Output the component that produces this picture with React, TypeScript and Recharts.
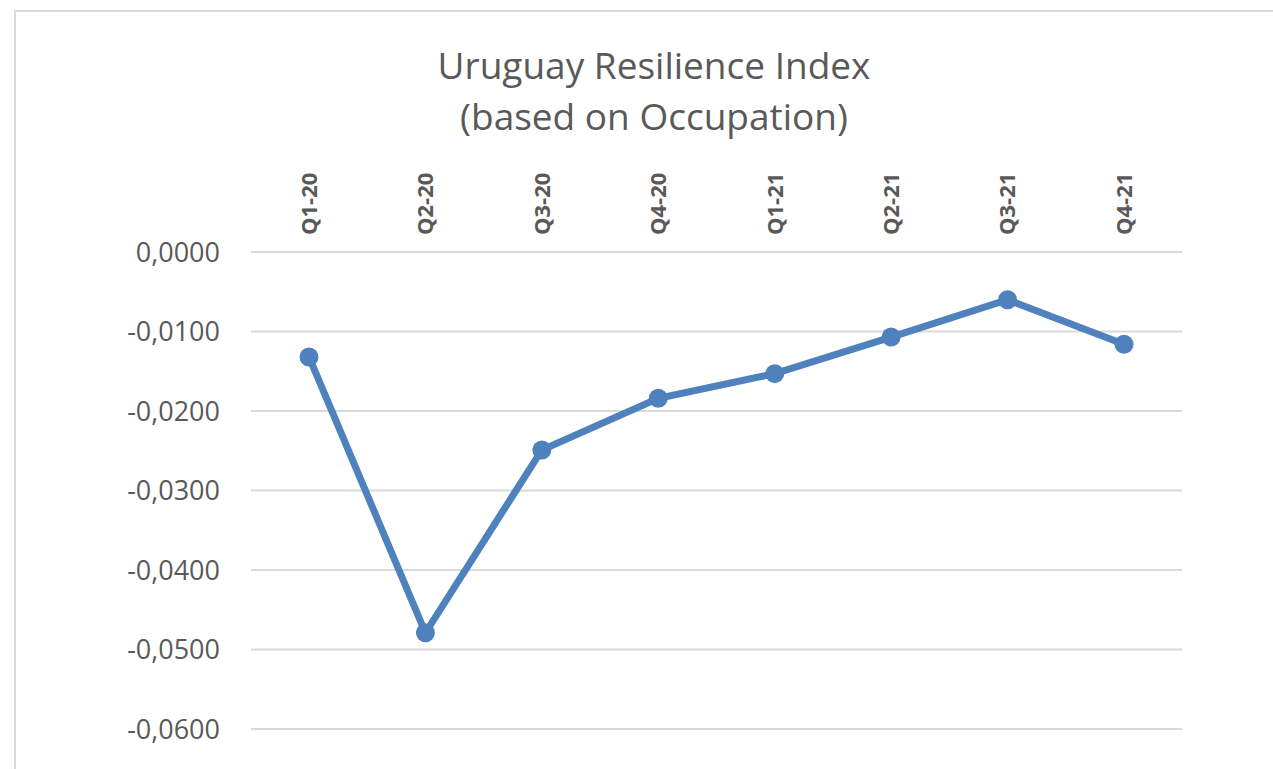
import { LineChart, Line, XAxis, YAxis, CartesianGrid } from "recharts";

const quarters = ["Q1-20", "Q2-20", "Q3-20", "Q4-20", "Q1-21", "Q2-21", "Q3-21", "Q4-21"];
const resilience = [-0.0132, -0.0479, -0.0249, -0.0184, -0.0153, -0.0107, -0.006, -0.0116];
const yTicks = [0, -0.01, -0.02, -0.03, -0.04, -0.05, -0.06];

const chartData = quarters.map((q, i) => ({ quarter: q, value: resilience[i] }));

const FONT = "'Open Sans', 'DejaVu Sans', sans-serif";
const TEXT = "#595959";

function formatTick(v: number): string {
  return v.toFixed(4).replace(".", ",");
}

function QuarterTick(props: any) {
  const { x, y, payload } = props;
  return (
    <g transform={`translate(${x},${y})`}>
      <text
        transform="rotate(-90)"
        textAnchor="start"
        dy="0.36em"
        fill={TEXT}
        fontSize={22}
        fontWeight="bold"
        fontFamily={FONT}
      >
        {payload.value}
      </text>
    </g>
  );
}

export default function App() {
  return (
    <div
      style={{
        position: "fixed",
        left: 0,
        top: 0,
        width: 1273,
        height: 769,
        overflow: "hidden",
        background: "#fff",
      }}
    >
      <div
        style={{
          position: "absolute",
          left: 14,
          top: 10,
          width: 1282,
          height: 800,
          border: "2px solid #d9d9d9",
          background: "#fff",
        }}
      >
        <div
          style={{
            position: "absolute",
            top: 27,
            left: -3,
            width: "100%",
            textAlign: "center",
            fontFamily: FONT,
            fontSize: 37,
            lineHeight: "51px",
            color: TEXT,
          }}
        >
          Uruguay Resilience Index
          <br />
          (based on Occupation)
        </div>
        <LineChart
          width={1278}
          height={780}
          data={chartData}
          margin={{ top: 0, right: 112, bottom: 63, left: 0 }}
        >
          <CartesianGrid vertical={false} stroke="#d9d9d9" strokeWidth={2} />
          <XAxis
            dataKey="quarter"
            orientation="top"
            height={240}
            axisLine={false}
            tickLine={false}
            tickSize={0}
            tickMargin={17}
            interval={0}
            padding={{ left: 58, right: 58 }}
            tick={<QuarterTick />}
          />
          <YAxis
            domain={[-0.06, 0]}
            ticks={yTicks}
            width={235}
            axisLine={false}
            tickLine={false}
            tickSize={0}
            tickMargin={31}
            tickFormatter={formatTick}
            tick={{ fill: TEXT, fontSize: 27, fontFamily: FONT }}
          />
          <Line
            type="linear"
            dataKey="value"
            stroke="#4f81bd"
            strokeWidth={7}
            dot={{ r: 9.5, fill: "#4f81bd", stroke: "#4f81bd", strokeWidth: 0 }}
            activeDot={false}
            isAnimationActive={false}
          />
        </LineChart>
      </div>
    </div>
  );
}
